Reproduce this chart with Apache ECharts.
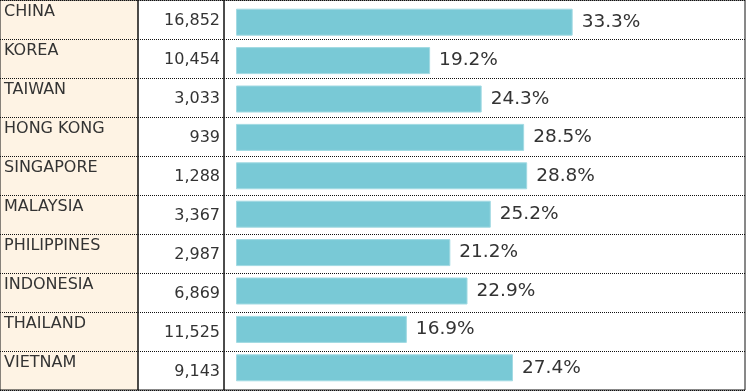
<!DOCTYPE html>
<html><head><meta charset="utf-8">
<script src="https://cdn.jsdelivr.net/npm/echarts@6/dist/echarts.min.js"></script>
<style>html,body{margin:0;padding:0;background:#fff}#c{width:748px;height:392px}</style>
</head><body><div id="c"></div>
<script>
const countries = ['CHINA','KOREA','TAIWAN','HONG KONG','SINGAPORE','MALAYSIA','PHILIPPINES','INDONESIA','THAILAND','VIETNAM'];
const counts = [16852,10454,3033,939,1288,3367,2987,6869,11525,9143];
const shares = [33.3,19.2,24.3,28.5,28.8,25.2,21.2,22.9,16.9,27.4];

const FONT = 'DejaVu Sans';
const TXT = '#333';
const chart = echarts.init(document.getElementById('c'), null, {renderer:'canvas'});
const frameGrid = (left, width, bg) => ({left, top:-1, width, height:391, show:true, backgroundColor:bg, borderColor:'#111', borderWidth:1});
const dotted = {show:true, interval:0, lineStyle:{type:[1,1], color:'#111', width:1}};
const countLabels = counts.map(v => v.toLocaleString('en-US'));

const option = {
  animation:false,
  grid:[
    frameGrid(-1,139,'#FEF3E4'),
    frameGrid(138,86,'transparent'),
    frameGrid(224,521,'transparent'),
    {left:236, top:3, width:505.5, height:384}
  ],
  xAxis:[0,1,2,3].map(i => ({gridIndex:i, type:'value', min:0, max:50, show:false})),
  yAxis:[
    {gridIndex:0, type:'category', inverse:true, data:countries,
     axisLine:{show:false}, axisTick:{show:false}, splitLine:dotted,
     axisLabel:{inside:true, margin:4, interval:0, align:'left', verticalAlign:'middle',
       formatter:v => '{t|' + v + '}',
       rich:{t:{fontFamily:FONT, fontSize:16, color:TXT, lineHeight:16, padding:[0,0,15,0]}}}},
    {gridIndex:1, type:'category', inverse:true, position:'right', data:countLabels,
     axisLine:{show:false}, axisTick:{show:false}, splitLine:dotted,
     axisLabel:{inside:true, margin:4, interval:0, align:'right', verticalAlign:'middle',
       formatter:v => '{n|' + v + '}',
       rich:{n:{fontFamily:FONT, fontSize:16, color:TXT, lineHeight:16, padding:[3,0,0,0]}}}},
    {gridIndex:2, type:'category', inverse:true, data:countries,
     axisLine:{show:false}, axisTick:{show:false}, axisLabel:{show:false}, splitLine:dotted},
    {gridIndex:3, type:'category', inverse:true, data:countries, show:false}
  ],
  series:[{
    type:'bar', xAxisIndex:3, yAxisIndex:3, data:shares, barWidth:27,
    itemStyle:{color:'#79C9D6', borderColor:'#A2DAE3', borderWidth:1},
    label:{show:true, position:'right', distance:9, formatter:p => p.value.toFixed(1)+'%',
      fontFamily:FONT, fontSize:18.5, color:TXT}
  }]
};
chart.setOption(option);
</script>
</body></html>
